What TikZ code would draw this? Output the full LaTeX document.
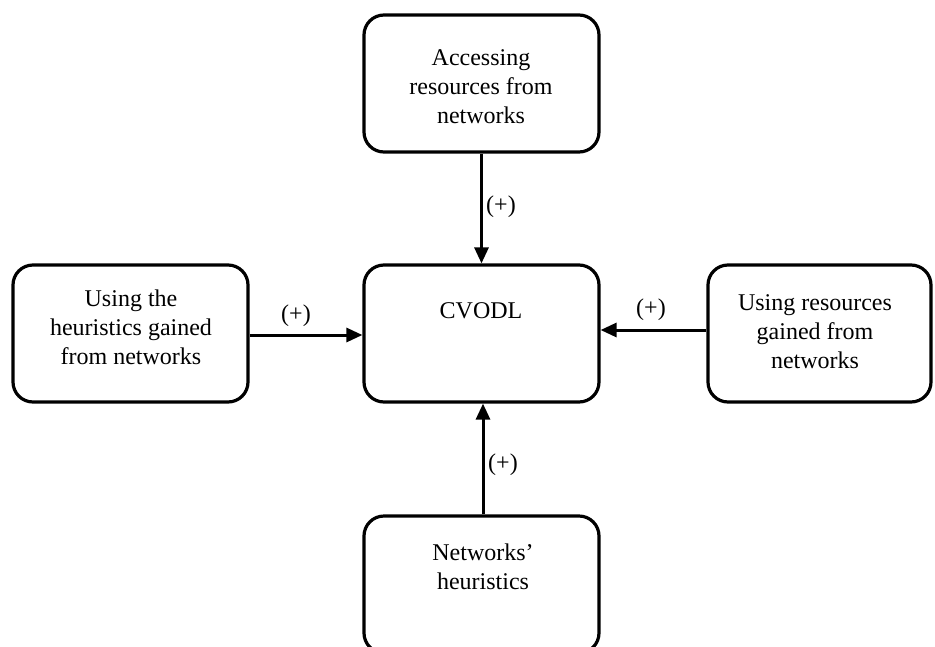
\documentclass[tikz,border=0pt]{standalone}
\usepackage{fontspec}
\setmainfont{Liberation Serif}
\usetikzlibrary{arrows.meta}
\begin{document}
\begin{tikzpicture}[x=1pt,y=-1pt,
  box/.style={draw=black,line width=3.2pt,rounded corners=20pt,inner sep=0pt},
  txt/.style={align=center,font=\fontsize{24}{29}\selectfont,inner sep=0pt},
  sign/.style={font=\fontsize{24}{28}\selectfont,inner sep=0pt},
  link/.style={line width=3pt,-{Triangle[length=16pt,width=14pt]}}]
\useasboundingbox (0,0) rectangle (935,646);
\clip (0,0) rectangle (935,646);
\fill[white] (0,0) rectangle (935,646);

% boxes
\node[box,minimum width=235pt,minimum height=137pt] (top)    at (481.5,83.5)  {};
\node[box,minimum width=235pt,minimum height=137pt] (centre) at (481.5,333.5) {};
\node[box,minimum width=235pt,minimum height=137pt] (left)   at (130.5,333.5) {};
\node[box,minimum width=223pt,minimum height=137pt] (right)  at (819.5,333.5) {};
\node[box,minimum width=235pt,minimum height=137pt] (bottom) at (481.5,584.5) {};

% box texts
\node[txt] (ttop)    at (481,87)  {Accessing\\resources from\\networks};
\node[txt] (tcentre) at (481,311) {CVODL};
\node[txt] (tleft)   at (131,327) {Using the\\heuristics gained\\from networks};
\node[txt] (tright)  at (815,332) {Using resources\\gained from\\networks};
\node[txt] (tbottom) at (483,567) {Networks’\\heuristics};

% connectors
\coordinate (lft) at (left.east |- 0,335);
\coordinate (lfc) at (centre.west |- 0,335);
\coordinate (rgt) at (right.west |- 0,330);
\coordinate (rgc) at (centre.east |- 0,330);
\coordinate (btm) at (483,0 |- bottom.north);
\coordinate (btc) at (483,0 |- centre.south);
\draw[link] (top.south) -- (centre.north);
\draw[link] (lft) -- (lfc);
\draw[link] (rgt) -- (rgc);
\draw[link] (btm) -- (btc);

% signs on the connectors
\node[sign] (s1) at (501,207) {(+)};
\node[sign] (s2) at (296,316) {(+)};
\node[sign] (s3) at (651,310) {(+)};
\node[sign] (s4) at (503,465) {(+)};
\end{tikzpicture}
\end{document}
